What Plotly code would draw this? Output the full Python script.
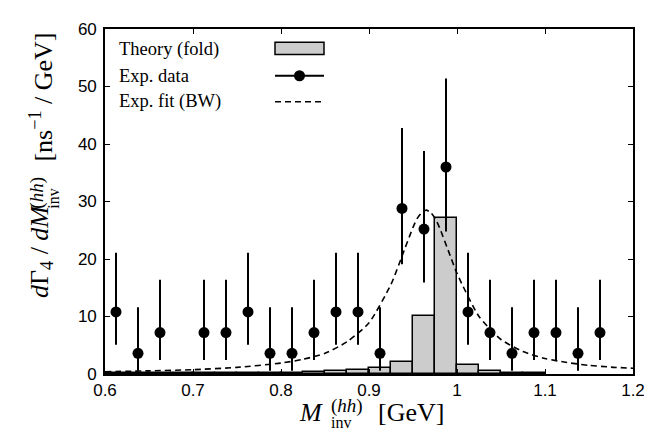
import plotly.graph_objects as go

# ---------------- data ----------------
# Theory (folded) histogram: bin centres and heights
theory_x = [0.6125, 0.6375, 0.6625, 0.6875, 0.7125, 0.7375, 0.7625, 0.7875,
            0.8125, 0.8375, 0.8625, 0.8875, 0.9125, 0.9375, 0.9625, 0.9875,
            1.0125, 1.0375, 1.0625, 1.0875]
theory_y = [0.25, 0.2, 0.2, 0.2, 0.2, 0.2, 0.2, 0.2,
            0.25, 0.4, 0.5, 0.65, 1.05, 2.1, 10.1, 27.2,
            1.55, 0.55, 0.25, 0.15]

# Experimental data points with asymmetric errors
exp_x = [0.6125, 0.6375, 0.6625, 0.7125, 0.7375, 0.7625, 0.7875, 0.8125,
         0.8375, 0.8625, 0.8875, 0.9125, 0.9375, 0.9625, 0.9875, 1.0125,
         1.0375, 1.0625, 1.0875, 1.1125, 1.1375, 1.1625]
exp_y = [10.8, 3.6, 7.2, 7.2, 7.2, 10.8, 3.6, 3.6,
         7.2, 10.8, 10.8, 3.6, 28.8, 25.2, 36.0, 10.8,
         7.2, 3.6, 7.2, 7.2, 3.6, 7.2]
exp_err_plus = [10.3, 8.0, 9.2, 9.2, 9.2, 10.3, 8.0, 8.0,
                9.2, 10.3, 10.3, 8.0, 14.0, 13.6, 15.4, 10.3,
                9.2, 8.0, 9.2, 9.2, 8.0, 9.2]
exp_err_minus = [5.7, 3.05, 4.75, 4.75, 4.75, 5.7, 3.05, 3.05,
                 4.75, 5.7, 5.7, 3.05, 9.7, 9.3, 11.2, 5.7,
                 4.75, 3.05, 4.75, 4.75, 3.05, 4.75]

fit_x = [0.6, 0.65, 0.7, 0.75, 0.8, 0.825, 0.85, 0.875, 0.9, 0.925, 0.94,
         0.95, 0.955, 0.96, 0.965, 0.97, 0.975, 0.98, 0.99, 1.0, 1.025,
         1.05, 1.075, 1.1, 1.125, 1.15, 1.175, 1.2]
fit_y = [0.4, 0.55, 0.75, 1.15, 1.9, 2.55, 3.6, 5.6, 8.9, 15.6, 21.5,
         25.5, 27.1, 28.1, 28.5, 28.1, 27.1, 25.5, 21.5, 17.5, 10.0,
         6.0, 3.9, 2.7, 2.0, 1.5, 1.2, 1.0]

legend_labels = ["Theory (fold)", "Exp. data", "Exp. fit (BW)"]

# ---------------- figure ----------------
W, H = 652, 430
L, R, T, B = 97, 27, 14, 64
PW, PH = W - L - R, H - T - B


def px(xp):
    return (xp - L) / PW


def py(yp):
    return (H - B - yp) / PH


SERIF = "Liberation Serif, Times New Roman, serif"
SANS = "Liberation Sans, Arial, sans-serif"

fig = go.Figure()

fig.add_trace(go.Scatter(
    x=fit_x, y=fit_y, mode="lines",
    line=dict(color="black", width=1.6, dash="6px,4px", shape="spline", smoothing=0.6),
    showlegend=False, hoverinfo="skip"))

fig.add_trace(go.Bar(
    x=theory_x, y=theory_y, width=0.025,
    marker=dict(color="#cccccc", line=dict(color="black", width=1.5)),
    showlegend=False))

fig.add_trace(go.Scatter(
    x=exp_x, y=exp_y, mode="markers",
    marker=dict(color="black", size=11, symbol="circle"),
    error_y=dict(type="data", symmetric=False, array=exp_err_plus,
                 arrayminus=exp_err_minus, color="black", thickness=2, width=0),
    showlegend=False))

fig.update_layout(
    width=W, height=H,
    margin=dict(l=L, r=R, t=T, b=B),
    paper_bgcolor="white", plot_bgcolor="white",
    bargap=0,
    xaxis=dict(range=[0.6, 1.2], dtick=0.1, tick0=0.6, ticks="inside", ticklen=5,
               tickwidth=1, tickcolor="black", showline=True, linecolor="black",
               linewidth=1.6, mirror="ticks", showgrid=False, zeroline=False,
               tickfont=dict(family=SANS, size=17, color="black")),
    yaxis=dict(range=[0, 60], dtick=10, ticks="inside", ticklen=5,
               tickwidth=1, tickcolor="black", showline=True, linecolor="black",
               linewidth=1.6, mirror="ticks", showgrid=False, zeroline=False,
               ticklabelstandoff=3,
               tickfont=dict(family=SANS, size=17, color="black")),
    showlegend=False,
)


def txt(x, y, text, size, angle=0, xanchor="center", align="center"):
    fig.add_annotation(xref="paper", yref="paper", x=px(x), y=py(y),
                       text=text, textangle=angle, showarrow=False,
                       xanchor=xanchor, yanchor="middle", borderpad=0, align=align,
                       font=dict(family=SERIF, size=size, color="black"))


STACK = ('<span style="font-size:19px">(<i>hh</i>)</span><br>'
         '<span style="font-size:16px">inv</span>')

# x-axis title: M with stacked (hh) / inv
txt(303, 405, "<i>M</i>", 26)
txt(322, 405.5, STACK, 12.3, xanchor="left", align="left")
txt(403, 405, "[GeV]", 26)

# y-axis title (rotated), with stacked (hh) / inv
XC = 33.5
txt(XC, 241, "<i>d</i>Γ<sub>4</sub> / <i>dM</i>", 26, angle=-90)
txt(XC + 2.5, 181, STACK, 12.3, angle=-90, align="left")
txt(XC, 83.5, "[ns<sup>−1</sup> / GeV]", 26, angle=-90)

# legend (manual: text left, sample right)
leg_y = [35, 61.7, 88.3]
for lab, yy in zip(legend_labels, leg_y):
    fig.add_annotation(xref="paper", yref="paper", x=px(110), y=py(yy), text=lab,
                       showarrow=False, xanchor="left", yanchor="middle", borderpad=0,
                       font=dict(family=SERIF, size=18.5, color="black"))

fig.add_shape(type="rect", xref="paper", yref="paper",
              x0=px(267), x1=px(316), y0=py(40), y1=py(27.5),
              fillcolor="#cccccc", line=dict(color="black", width=1.5))
fig.add_shape(type="line", xref="paper", yref="paper",
              x0=px(267), x1=px(316), y0=py(61.7), y1=py(61.7),
              line=dict(color="black", width=2))
fig.add_shape(type="circle", xref="paper", yref="paper",
              xsizemode="pixel", ysizemode="pixel",
              xanchor=px(291.5), yanchor=py(61.7),
              x0=-5.5, x1=5.5, y0=-5.5, y1=5.5,
              fillcolor="black", line=dict(color="black", width=0))
fig.add_shape(type="line", xref="paper", yref="paper",
              x0=px(267), x1=px(316), y0=py(88.3), y1=py(88.3),
              line=dict(color="black", width=1.6, dash="6px,4px"))

fig.write_html("out.html")
